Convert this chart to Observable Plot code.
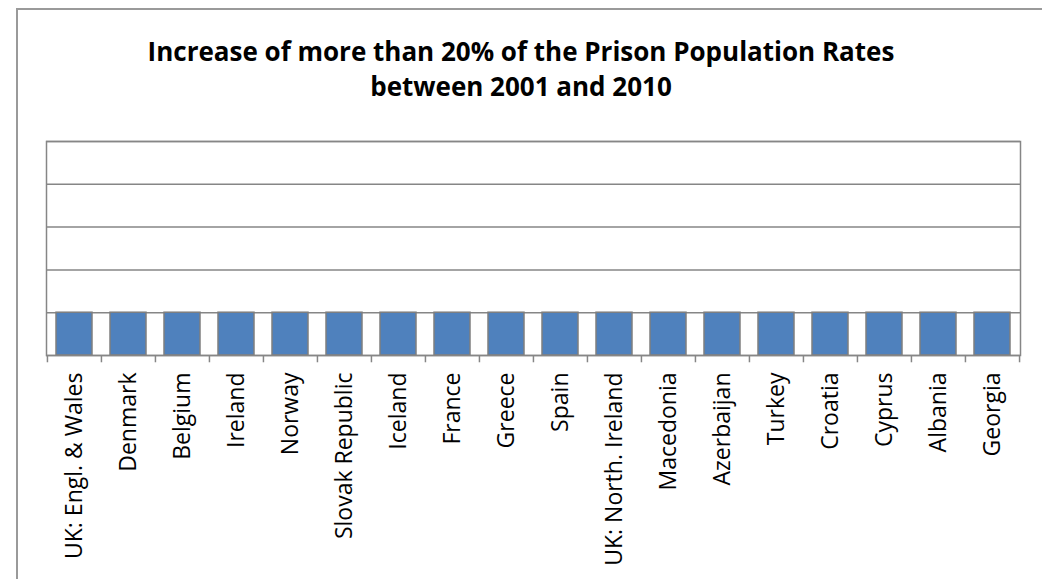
<!DOCTYPE html>
<html><head><meta charset="utf-8">
<script src="https://cdn.jsdelivr.net/npm/d3@7"></script>
<script src="https://cdn.jsdelivr.net/npm/@observablehq/plot@0.6"></script>
<style>
html,body{margin:0;padding:0;background:#fff;overflow:hidden;width:1042px;height:579px;}
#border{position:absolute;left:16px;top:8px;width:1100px;height:700px;border-left:2px solid #9a9a9a;border-top:2px solid #9a9a9a;box-sizing:border-box;}
#title{position:absolute;left:0;top:34px;width:1042px;text-align:center;font-family:"Open Sans",sans-serif;font-weight:bold;font-size:26px;line-height:35px;color:#000;}
#chart{position:absolute;left:0;top:120px;}
</style></head>
<body>
<div id="border"></div>
<div id="title">Increase of more than 20% of the Prison Population Rates<br>between 2001 and 2010</div>
<div id="chart"></div>
<script>
const categories = ["UK: Engl. & Wales","Denmark","Belgium","Ireland","Norway","Slovak Republic","Iceland","France","Greece","Spain","UK: North. Ireland","Macedonia","Azerbaijan","Turkey","Croatia","Cyprus","Albania","Georgia"];
const values = [1,1,1,1,1,1,1,1,1,1,1,1,1,1,1,1,1,1];
const yTicks = [0,1,2,3,4,5];

const data = categories.map((c, i) => ({cat: c, val: values[i]}));
const W = 1042, ML = 46, MR = 22;
const step = (W - ML - MR) / categories.length;
const gray = "#868686";

const chart = Plot.plot({
  width: W, height: 459,
  marginLeft: ML, marginRight: MR, marginTop: 21, marginBottom: 224,
  x: {domain: categories, paddingInner: 1/3, paddingOuter: 1/6, align: 0.5, label: null},
  y: {domain: [0, 5], axis: null},
  style: {fontFamily: "Open Sans", color: "#000", background: "transparent"},
  marks: [
    Plot.gridY(yTicks, {stroke: gray, strokeOpacity: 1, strokeWidth: 1.5}),
    Plot.barY(data, {x: "cat", y: "val", fill: "#4F81BD", stroke: "#7f7f7f", strokeWidth: 1.5}),
    Plot.ruleX(categories, {x: d => d, dx: -step / 2, y1: 0, y2: -0.17, stroke: gray, strokeWidth: 1.5}),
    Plot.ruleX(categories.slice(-1), {x: d => d, dx: step / 2, y1: 0, y2: -0.17, stroke: gray, strokeWidth: 1.5}),
    Plot.frame({stroke: gray, strokeWidth: 1.5}),
    Plot.axisX({tickRotate: -90, tickSize: 0, tickPadding: 17, fontSize: 23, fill: "#000", label: null})
  ]
});
document.getElementById("chart").appendChild(chart);
</script>
</body></html>
